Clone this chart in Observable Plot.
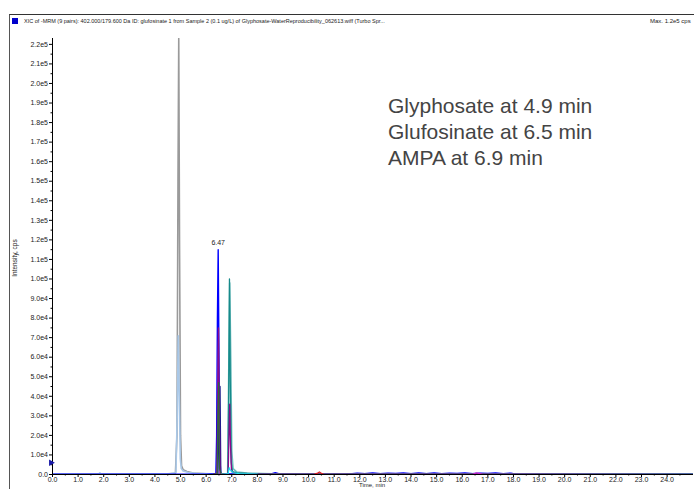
<!DOCTYPE html>
<html>
<head>
<meta charset="utf-8">
<script src="https://cdn.jsdelivr.net/npm/d3@7"></script>
<script src="https://cdn.jsdelivr.net/npm/@observablehq/plot@0.6"></script>
<style>
  body { margin: 0; background: #fff; }
  #wrap { position: relative; width: 694px; height: 489px; overflow: hidden; background: #fff; font-family: "Liberation Sans", Arial, sans-serif; }
  #chart { position: absolute; left: 0; top: 0; }
  .ov { position: absolute; white-space: nowrap; color: #222; }
</style>
</head>
<body>
<div id="wrap">
  <div id="chart"></div>
  <div class="ov" style="left:9px;top:14px;width:690px;height:480px;border-left:1.5px solid #555;border-top:1px solid #333;"></div>
  <div class="ov" style="left:12px;top:18px;width:6px;height:6px;background:#0000cc;"></div>
  <div class="ov" id="hdr" style="left:24px;top:17px;font-size:5.5px;line-height:8px;"></div>
  <div class="ov" id="hdrmax" style="left:650px;top:17px;font-size:6px;line-height:8px;"></div>
  <div class="ov" id="ylab" style="left:14px;top:258px;font-size:6.5px;transform:translate(-50%,-50%) rotate(-90deg);"></div>
  <div class="ov" id="xlab" style="left:372px;top:482px;font-size:6px;line-height:7px;transform:translateX(-50%);"></div>
  <div class="ov" id="note" style="left:388px;top:93px;font-size:21px;line-height:26px;color:#444;"></div>
</div>
<script>
// ---- text ----
const headerText = "XIC of -MRM (9 pairs): 402.000/179.600 Da ID: glufosinate 1 from Sample 2 (0.1 ug/L) of Glyphosate-WaterReproducibility_062613.wiff (Turbo Spr...";
const headerMax = "Max. 1.2e5 cps";
const yLabel = "Intensity, cps";
const xLabel = "Time, min";
const noteLines = ["Glyphosate at 4.9 min", "Glufosinate at 6.5 min", "AMPA at 6.9 min"];

// ---- ticks ----
const xTicks = d3.range(0, 25, 1);
const xMinor = d3.range(0.5, 25, 1);
const yTicks = d3.range(0, 230000, 10000);
const yMinor = d3.range(5000, 225000, 10000);

// ---- series (time in min, intensity in cps) ----
const grayT = [0, 2.0, 4.5, 4.80, 4.86, 4.90, 4.93, 4.96, 5.00, 5.04, 5.10, 5.25, 5.5, 6.0, 10, 25];
const grayI = [150, 200, 300, 600, 20000, 150000, 223000, 120000, 20000, 4500, 2500, 1500, 800, 300, 150, 100];

const lightBlueT = [0, 1.8, 1.85, 1.9, 4.6, 4.82, 4.87, 4.91, 4.95, 4.99, 5.03, 5.1, 5.3, 5.6, 6.2, 11.5, 12.5, 13.5, 14.5, 15.5, 16.5, 17.5, 18.5, 19.5, 25];
const lightBlueI = [200, 200, 900, 200, 400, 1000, 30000, 71000, 40000, 8000, 3000, 1800, 1000, 600, 300, 300, 500, 350, 550, 300, 500, 400, 300, 250, 150];

const blueT = [0, 6.0, 6.38, 6.41, 6.44, 6.47, 6.50, 6.53, 6.57, 6.7, 8.5, 8.7, 8.9, 11.6, 11.9, 12.2, 12.5, 12.8, 13.1, 13.4, 13.7, 14.0, 14.3, 14.6, 14.9, 15.2, 15.5, 15.8, 16.1, 16.4, 16.7, 17.0, 17.3, 17.6, 17.9, 18.1, 25];
const blueI = [100, 200, 400, 20000, 80000, 115000, 60000, 10000, 600, 300, 200, 900, 200, 300, 700, 400, 800, 350, 650, 500, 800, 400, 750, 450, 800, 350, 700, 500, 850, 400, 700, 550, 800, 450, 700, 200, 100];

const navyT = [6.3, 6.46, 6.50, 6.54, 6.57, 6.65];
const navyI = [100, 300, 30000, 45000, 500, 200];

const purple1T = [6.3, 6.42, 6.45, 6.48, 6.51, 6.54, 6.65];
const purple1I = [100, 400, 40000, 75000, 30000, 500, 200];

const greenT = [6.3, 6.43, 6.46, 6.49, 6.52, 6.6];
const greenI = [100, 300, 30000, 47000, 3000, 150];

const lightTealT = [6.6, 6.84, 6.88, 6.92, 6.96, 7.00, 7.05, 7.2, 7.6, 8.2, 9.0, 25];
const lightTealI = [100, 400, 50000, 98000, 60000, 12000, 3000, 1200, 700, 450, 250, 120];

const tealT = [6.6, 6.85, 6.88, 6.91, 6.94, 6.98, 7.03, 7.2, 7.8, 8.7, 25];
const tealI = [100, 400, 40000, 100000, 50000, 6000, 1500, 800, 400, 250, 120];

const purple2T = [6.7, 6.86, 6.89, 6.92, 6.95, 6.99, 7.1, 7.4, 25];
const purple2I = [100, 400, 20000, 36000, 15000, 1500, 600, 200, 100];

const cyanT = [6.7, 6.86, 6.90, 6.93, 6.97, 7.05, 7.3, 8.0];
const cyanI = [100, 500, 3500, 2500, 2000, 900, 400, 150];

const redT = [10.2, 10.35, 10.42, 10.5, 10.6];
const redI = [0, 700, 1300, 600, 0];

const magentaT = [16.4, 16.55, 16.65, 16.8];
const magentaI = [0, 900, 600, 0];

const seriesDefs = [
  {name: "gray", t: grayT, i: grayI, color: "#9a9a9a", w: 1.6},
  {name: "lightblue", t: lightBlueT, i: lightBlueI, color: "#a9c8e8", w: 1.6},
  {name: "blue", t: blueT, i: blueI, color: "#0000ff", w: 1.4},
  {name: "navy", t: navyT, i: navyI, color: "#1c1c8c", w: 1.4},
  {name: "purple1", t: purple1T, i: purple1I, color: "#8b0a8b", w: 1.4},
  {name: "green", t: greenT, i: greenI, color: "#2f6a3a", w: 1.2},
  {name: "lightteal", t: lightTealT, i: lightTealI, color: "#6fbdbd", w: 1.6},
  {name: "teal", t: tealT, i: tealI, color: "#168a8a", w: 1.3},
  {name: "purple2", t: purple2T, i: purple2I, color: "#8b0a8b", w: 1.3},
  {name: "cyan", t: cyanT, i: cyanI, color: "#19e6f0", w: 1.2},
  {name: "red", t: redT, i: redI, color: "#e02020", w: 1.2},
  {name: "magenta", t: magentaT, i: magentaI, color: "#d020d0", w: 1.2}
];

const peakLabels = [{t: 6.47, i: 115000, label: "6.47"}];
const markerPts = [{t: 0, i: 6000}];

const fmtY = d => d === 0 ? "0.0" : d.toExponential(1).replace("+", "");

const lineMarks = seriesDefs.map(s =>
  Plot.line(s.t.map((t, k) => ({t, i: s.i[k]})), {x: "t", y: "i", stroke: s.color, strokeWidth: s.w, clip: true})
);

const chart = Plot.plot({
  width: 694,
  height: 489,
  marginLeft: 52,
  marginRight: 1,
  marginTop: 38,
  marginBottom: 15,
  style: {fontFamily: "'Liberation Sans', Arial, sans-serif", fontSize: "7px", color: "#222", background: "transparent"},
  x: {domain: [0, 25.03]},
  y: {domain: [0, 223000]},
  marks: [
    ...lineMarks,
    Plot.ruleY([0], {stroke: "#000", strokeWidth: 1}),
    Plot.ruleX([0], {stroke: "#000", strokeWidth: 1}),
    Plot.axisY({ticks: yTicks, tickFormat: fmtY, tickSize: 3, tickPadding: 1.5, label: null, fontSize: 7, stroke: "#000"}),
    Plot.axisY({ticks: yMinor, tickFormat: () => "", tickSize: 1.5, label: null, stroke: "#000"}),
    Plot.axisX({ticks: xTicks, tickFormat: d => d.toFixed(1), tickSize: 3, tickPadding: 0, label: null, fontSize: 7, stroke: "#000"}),
    Plot.axisX({ticks: xMinor, tickFormat: () => "", tickSize: 1.5, label: null, stroke: "#000"}),
    Plot.text(peakLabels, {x: "t", y: "i", text: "label", dy: -7, fontSize: 7, fill: "#222"}),
    Plot.dot(markerPts, {x: "t", y: "i", symbol: "triangle2", r: 3.2, fill: "#1a1aa8", rotate: 90, dx: -1.5})
  ]
});

document.getElementById("chart").appendChild(chart);
document.getElementById("hdr").textContent = headerText;
document.getElementById("hdrmax").textContent = headerMax;
document.getElementById("ylab").textContent = yLabel;
document.getElementById("xlab").textContent = xLabel;
document.getElementById("note").innerHTML = noteLines.map(s => `<div>${s}</div>`).join("");
</script>
</body>
</html>
